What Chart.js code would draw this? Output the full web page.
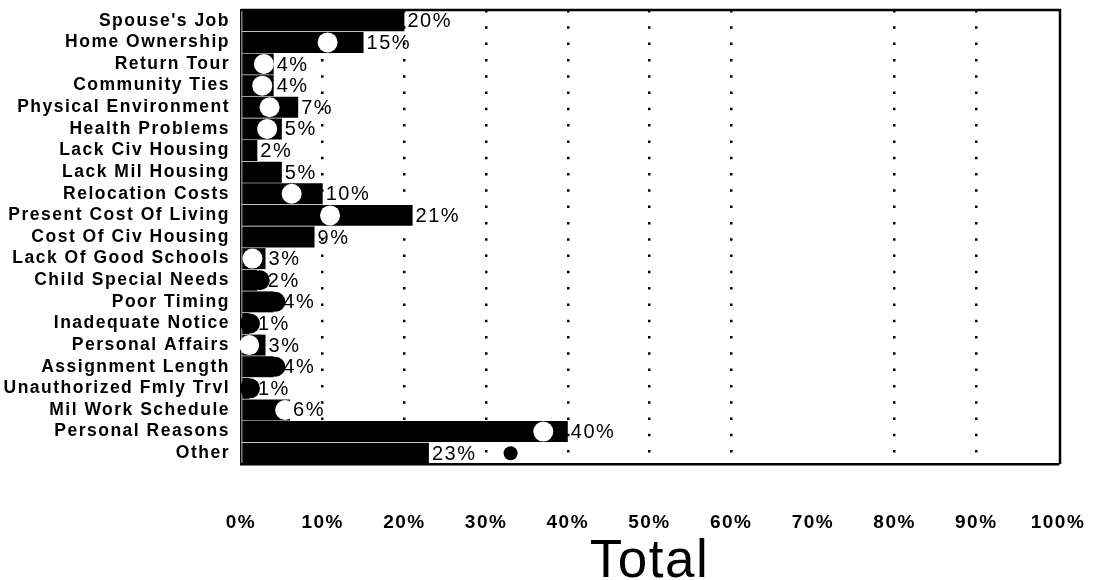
<!DOCTYPE html>
<html>
<head>
<meta charset="utf-8">
<script src="https://cdn.jsdelivr.net/npm/chart.js@4"></script>
<style>
  html, body { margin: 0; padding: 0; background: #fff; }
  #wrap { width: 1099px; height: 580px; }
</style>
</head>
<body>
<div id="wrap"><canvas id="chart"></canvas></div>
<script>
// DATA
const categories = [
  "Spouse's Job", 'Home Ownership', 'Return Tour', 'Community Ties',
  'Physical Environment', 'Health Problems', 'Lack Civ Housing', 'Lack Mil Housing',
  'Relocation Costs', 'Present Cost Of Living', 'Cost Of Civ Housing',
  'Lack Of Good Schools', 'Child Special Needs', 'Poor Timing', 'Inadequate Notice',
  'Personal Affairs', 'Assignment Length', 'Unauthorized Fmly Trvl',
  'Mil Work Schedule', 'Personal Reasons', 'Other'
];
const totalPct = [20, 15, 4, 4, 7, 5, 2, 5, 10, 21, 9, 3, 2, 4, 1, 3, 4, 1, 6, 40, 23];
// round markers drawn over the bars
const markerPct = [null, 10.6, 2.8, 2.6, 3.5, 3.2, null, null, 6.2, 10.9, null,
  1.4, 2.3, 4.2, 1.1, 1.0, 4.2, 1.1, 5.4, 37, 33];
const xTicks = [0, 10, 20, 30, 40, 50, 60, 70, 80, 90, 100];

const FONT = "'Liberation Sans', Arial, Helvetica, sans-serif";

// marker white when sitting on the bar, black when past it
const markerColors = markerPct.map((m, i) => (m !== null && m < totalPct[i]) ? '#fff' : '#000');
const markerRadius = markerPct.map((m, i) => i === categories.length - 1 ? 7 : 10);

// BAR VALUE LABELS
const valueLabels = {
  id: 'valueLabels',
  afterDatasetsDraw(chart) {
    const ctx = chart.ctx;
    const bars = chart.getDatasetMeta(0).data;
    const pts = chart.getDatasetMeta(1).data;
    ctx.save();
    ctx.letterSpacing = '1.5px';
    ctx.font = '20px ' + FONT;
    ctx.fillStyle = '#000';
    ctx.textAlign = 'left';
    ctx.textBaseline = 'middle';
    bars.forEach((bar, i) => {
      let x = bar.x + 3;
      // push label past a black marker that sticks out of the bar
      if (markerColors[i] === '#000' && markerPct[i] !== null && i !== bars.length - 1) {
        x = Math.max(x, pts[i].x + markerRadius[i] - 2);
      }
      ctx.fillText(totalPct[i] + '%', x, bar.y + 1);
    });
    ctx.restore();
  }
};

// TOP + RIGHT FRAME, LETTER SPACING
const frame = {
  id: 'frame',
  beforeDraw(chart) {
    chart.ctx.letterSpacing = '1.5px';
  },
  afterDraw(chart) {
    const {ctx, chartArea: a} = chart;
    ctx.save();
    ctx.strokeStyle = '#000';
    ctx.lineWidth = 2.5;
    ctx.beginPath();
    ctx.moveTo(a.left, a.top);
    ctx.lineTo(a.right + 2, a.top);
    ctx.lineTo(a.right + 2, a.bottom);
    ctx.stroke();
    ctx.restore();
  }
};

new Chart(document.getElementById('chart'), {
  type: 'bar',
  data: {
    labels: categories,
    datasets: [{
      label: 'Total',
      data: totalPct,
      backgroundColor: '#000',
      borderWidth: 0,
      barPercentage: 0.97,
      categoryPercentage: 1,
      order: 1
    }, {
      type: 'line',
      label: 'Marker',
      data: markerPct,
      showLine: false,
      pointRadius: markerRadius,
      pointHoverRadius: markerRadius,
      pointBackgroundColor: markerColors,
      pointBorderWidth: 0,
      borderWidth: 0,
      clip: false,
      order: 0
    }]
  },
  options: {
    indexAxis: 'y',
    responsive: true,
    maintainAspectRatio: false,
    animation: false,
    layout: { padding: { left: 0, right: 41, top: 7, bottom: 0 } },
    plugins: {
      legend: { display: false },
      tooltip: { enabled: false }
    },
    scales: {
      x: {
        min: 0,
        max: 100,
        afterBuildTicks: axis => { axis.ticks = xTicks.map(v => ({ value: v })); },
        afterFit: axis => {
          axis.height = 116;
          axis.paddingLeft = 0;
          axis.paddingRight = 0;
        },
        grid: {
          drawTicks: false,
          lineWidth: 2.5,
          color: ctx => ([0, 70, 100].includes(ctx.tick && ctx.tick.value) ? 'rgba(0,0,0,0)' : '#000')
        },
        border: { display: true, color: '#000', width: 2.5, dash: [2.5, 13.8] },
        ticks: {
          padding: 47,
          color: '#000',
          maxRotation: 0,
          autoSkip: false,
          font: { family: FONT, size: 19, weight: 'bold' },
          callback: v => v + '%'
        },
        title: {
          display: true,
          text: 'Total',
          color: '#000',
          padding: 0,
          font: { family: FONT, size: 53, lineHeight: 0.65 }
        }
      },
      y: {
        afterFit: axis => {
          axis.width = 241;
          axis.paddingTop = 0;
          axis.paddingBottom = 0;
        },
        grid: { display: false },
        border: { display: true, color: '#000', width: 1.5 },
        ticks: {
          padding: 3,
          color: '#000',
          autoSkip: false,
          font: { family: FONT, size: 17.5, weight: 'bold' }
        }
      }
    }
  },
  plugins: [valueLabels, frame]
});
</script>
</body>
</html>
